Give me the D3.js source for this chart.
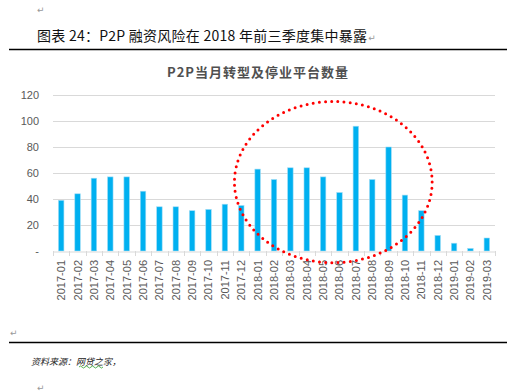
<!DOCTYPE html>
<html>
<head>
<meta charset="utf-8">
<script src="https://cdn.jsdelivr.net/npm/d3@7"></script>
<style>
  body { margin: 0; background: #fff; }
  svg { display: block; font-family: "Liberation Sans", Arial, "Noto Sans CJK SC", sans-serif; }
</style>
</head>
<body>
<div id="chart"></div>
<script>
// months on the x axis
var months = ['2017-01','2017-02','2017-03','2017-04','2017-05','2017-06','2017-07','2017-08','2017-09',
  '2017-10','2017-11','2017-12','2018-01','2018-02','2018-03','2018-04','2018-05','2018-06','2018-07',
  '2018-08','2018-09','2018-10','2018-11','2018-12','2019-01','2019-02','2019-03'];
// platforms transformed / closed in the month
var platforms = [39, 44, 56, 57, 57, 46, 34, 34, 31, 32, 36, 35, 63, 55, 64, 64, 57, 45, 96, 55, 80, 43, 31, 12, 6, 2, 10];
var yTicks = [0, 20, 40, 60, 80, 100, 120];
// highlighted period (circled in red)
var circled = ['2018-01', '2018-10'];

var width = 507, height = 392;
var margins = {top: 95, left: 53, right: 12, bottom: 141};
var w = width - margins.left - margins.right;
var h = height - margins.top - margins.bottom;

var svg = d3.select('#chart').append('svg')
    .attr('width', width)
    .attr('height', height);

var cjk = '"Noto Sans CJK SC", "Liberation Sans", sans-serif';

// document frame: paragraph marks, caption, rules, source
function mark(x, y) {
  svg.append('text').attr('x', x).attr('y', y)
      .attr('font-size', 9).attr('fill', '#999')
      .style('font-family', '"DejaVu Sans", sans-serif')
      .text('\u21b5');
}
mark(37, 13);
var caption = svg.append('text')
    .attr('x', 37).attr('y', 41)
    .attr('font-size', 14)
    .attr('fill', '#111')
    .style('font-family', cjk)
    .style('letter-spacing', '0.25px')
    .text('图表 24：P2P 融资风险在 2018 年前三季度集中暴露');
mark(37 + caption.node().getComputedTextLength() + 1, 41);
svg.append('line').attr('x1', 9).attr('x2', 507).attr('y1', 49.5).attr('y2', 49.5)
    .attr('stroke', '#000').attr('stroke-width', 1.3);

svg.append('text')
    .attr('x', 258).attr('y', 77)
    .attr('text-anchor', 'middle')
    .attr('font-size', 13)
    .attr('font-weight', 'bold')
    .attr('fill', '#505050')
    .style('font-family', cjk)
    .style('letter-spacing', '1px')
    .text('P2P当月转型及停业平台数量');

mark(10, 336);
svg.append('line').attr('x1', 9).attr('x2', 507).attr('y1', 342.5).attr('y2', 342.5)
    .attr('stroke', '#000').attr('stroke-width', 1.3);
svg.append('text')
    .attr('x', 31).attr('y', 365)
    .attr('font-size', 9)
    .attr('fill', '#222')
    .style('font-family', cjk)
    .style('font-style', 'italic')
    .text('资料来源：网贷之家，');
svg.append('path')
    .attr('d', 'M79 367 q1.5 -2 3 0 t3 0 t3 0 t3 0 t3 0 t3 0 t3 0 t3 0')
    .attr('fill', 'none').attr('stroke', '#2a9d2a').attr('stroke-width', 0.8);
mark(37, 391);

// chart
var g = svg.append('g')
    .attr('transform', 'translate(' + margins.left + ', ' + margins.top + ')');

var x = d3.scaleBand().domain(months).range([0, w]);
var y = d3.scaleLinear().domain([0, 120]).range([h, 0]);

g.selectAll('line.grid')
    .data(yTicks.slice(1))
    .enter().append('line')
    .classed('grid', true)
    .attr('x1', 0).attr('x2', w)
    .attr('y1', function(d) { return Math.round(y(d)) + 0.5; })
    .attr('y2', function(d) { return Math.round(y(d)) + 0.5; })
    .attr('stroke', '#d9d9d9');

var yAxis = g.append('g')
    .call(d3.axisLeft(y).tickValues(yTicks).tickSize(0).tickPadding(14)
      .tickFormat(function(d) { return d === 0 ? '-' : d; }));
yAxis.select('.domain').remove();
yAxis.selectAll('text').attr('font-size', 11).attr('fill', '#595959')
    .style('font-family', '"Liberation Sans", Arial, sans-serif');

var barW = 5.5;
g.selectAll('rect.bar')
    .data(platforms)
    .enter().append('rect')
    .classed('bar', true)
    .attr('x', function(d, i) { return x(months[i]) + x.bandwidth() / 2 - barW / 2; })
    .attr('y', function(d) { return y(d); })
    .attr('width', barW)
    .attr('height', function(d) { return h - y(d); })
    .attr('fill', '#00b0f0')
    .attr('stroke', '#9fdcf5')
    .attr('stroke-width', 0.6);

var xAxis = g.append('g')
    .attr('transform', 'translate(0,' + (Math.round(h) + 0.5) + ')')
    .call(d3.axisBottom(x).tickSize(0).tickFormat(''));
xAxis.select('.domain').attr('stroke', '#d9d9d9');
// ticks between categories
g.selectAll('line.xtick')
    .data(months.concat(['end']))
    .enter().append('line')
    .classed('xtick', true)
    .attr('x1', function(d, i) { return Math.round(i * x.step()) + 0.5; })
    .attr('x2', function(d, i) { return Math.round(i * x.step()) + 0.5; })
    .attr('y1', h).attr('y2', h + 5)
    .attr('stroke', '#d9d9d9');

g.selectAll('text.xlab')
    .data(months)
    .enter().append('text')
    .classed('xlab', true)
    .attr('transform', function(d) {
      return 'translate(' + (x(d) + x.bandwidth() / 2) + ',' + (h + 9) + ') rotate(-90)';
    })
    .attr('dy', '0.36em')
    .attr('text-anchor', 'end')
    .attr('font-size', 11)
    .attr('fill', '#595959')
    .style('font-family', '"Liberation Sans", Arial, sans-serif')
    .text(function(d) { return d; });

// red dotted ellipse round 2018-01 .. 2018-10
var x0 = x(circled[0]), x1 = x(circled[1]) + x.bandwidth();
var cx = (x0 + x1) / 2;
g.append('ellipse')
    .attr('cx', cx + 2)
    .attr('cy', y(53))
    .attr('rx', (x1 - x0) / 2 + 17)
    .attr('ry', y(0) - y(62))
    .attr('fill', 'none')
    .attr('stroke', '#ff0000')
    .attr('stroke-width', 3)
    .attr('stroke-linecap', 'round')
    .attr('stroke-dasharray', '0 6.2');
</script>
</body>
</html>
